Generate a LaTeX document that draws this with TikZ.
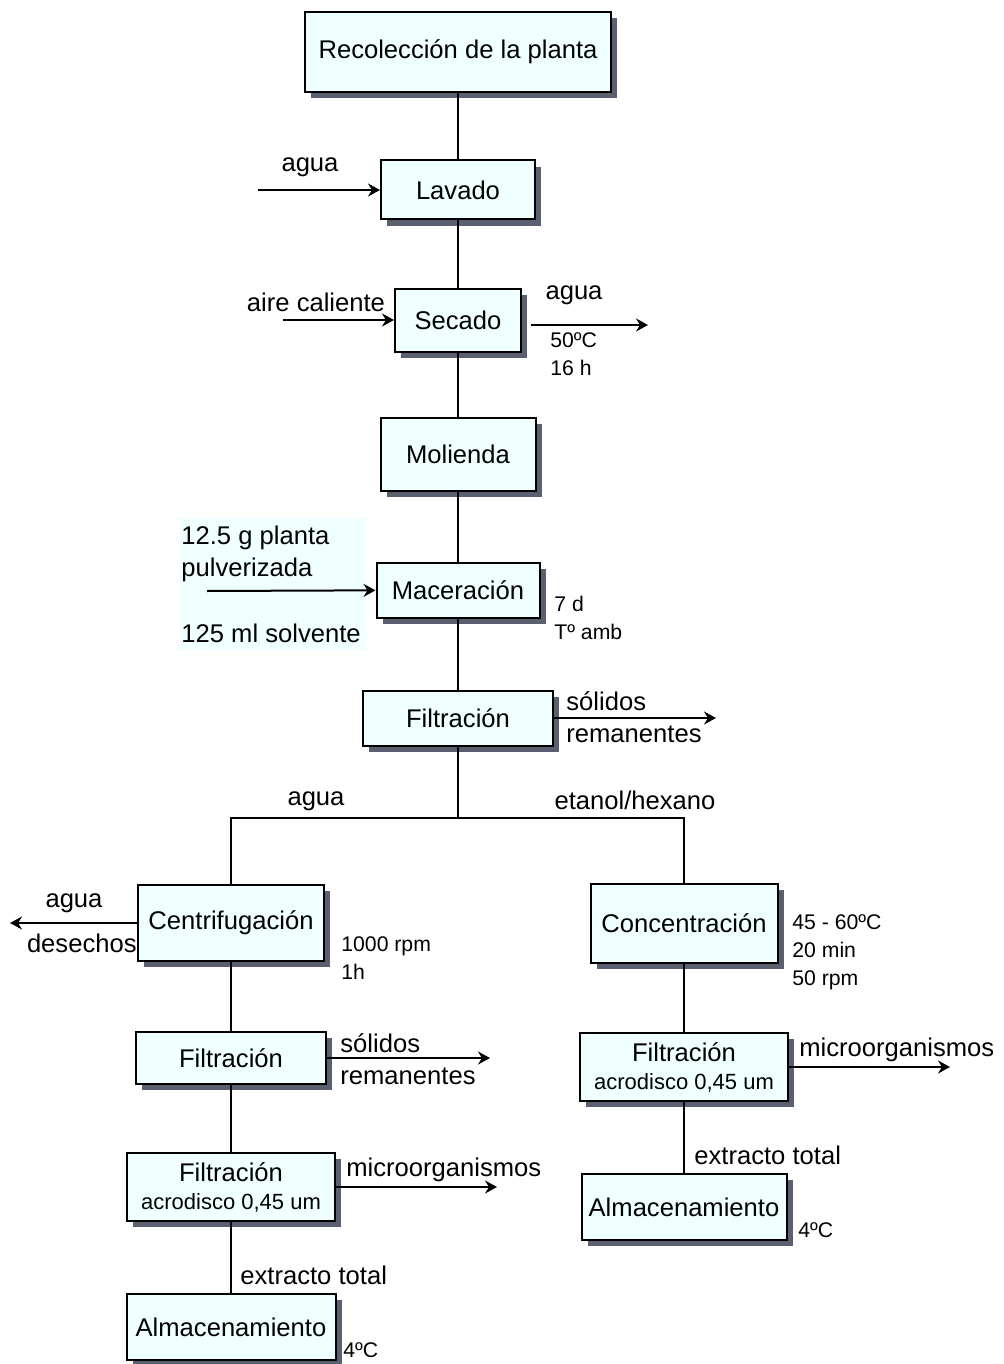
\documentclass[tikz,border=0pt]{standalone}
\usepackage{fontspec}
\setmainfont{Liberation Sans}
\usepackage{tikz}
\usetikzlibrary{arrows.meta,positioning,shadows}
\definecolor{boxfill}{HTML}{F0FFFF}
\definecolor{shade}{HTML}{5A6070}
\definecolor{feedfill}{HTML}{F0FFFF}

\begin{document}
\begin{tikzpicture}[
  x=0.5pt, y=-0.5pt,
  proc/.style={draw=black, fill=boxfill, line width=1pt, inner sep=0pt, align=center, font=\fontsize{12.8}{16}\selectfont, general shadow={fill=shade, shadow xshift=3.2pt, shadow yshift=-3.2pt}},
  lbl/.style={inner sep=0pt, align=left, font=\fontsize{12.8}{16}\selectfont},
  note/.style={inner sep=0pt, align=left, font=\fontsize{10.6}{14}\selectfont},
  flow/.style={line width=1pt},
  arrow/.style={line width=1pt, -{Stealth[length=6pt,width=6.5pt,inset=2pt]}}
]
\useasboundingbox (0,0) rectangle (1003,1364);

% background of the feed
\node[fill=feedfill, minimum width=93pt, minimum height=66pt, inner sep=0pt] (feedbg) at (273,584) {};

% main line
\node[proc, minimum width=153pt, minimum height=40pt] (recol) at (458,52) {Recolección de la planta};
\node[proc, minimum width=77pt, minimum height=29.5pt] (lavado) at (458,190) {Lavado};
\node[proc, minimum width=63pt, minimum height=31.5pt] (secado) at (458,320) {Secado};
\node[proc, minimum width=77.5pt, minimum height=36.5pt] (molienda) at (458,454) {Molienda};
\node[proc, minimum width=81.5pt, minimum height=27.5pt] (macer) at (458,590) {Maceración};
\node[proc, minimum width=95pt, minimum height=27.5pt] (filt) at (458,718) {Filtración};

% agua branch
\node[proc, minimum width=93pt, minimum height=38pt] (centrif) at (231,923) {Centrifugación};
\node[proc, minimum width=95pt, minimum height=26pt] (filtL) at (231,1058) {Filtración};
\node[proc, minimum width=104pt, minimum height=34pt] (acroL) at (231,1187) {Filtración\\[-2pt]{\fontsize{11}{13}\selectfont acrodisco 0,45 um}};
\node[proc, minimum width=104.5pt, minimum height=33pt] (almL) at (231,1327) {Almacenamiento};

% etanol/hexano branch
\node[proc, minimum width=93.5pt, minimum height=39.5pt] (concen) at (684,923) {Concentración};
\node[proc, minimum width=104pt, minimum height=34pt] (acroR) at (684,1067) {Filtración\\[-2pt]{\fontsize{11}{13}\selectfont acrodisco 0,45 um}};
\node[proc, minimum width=102.5pt, minimum height=33pt] (almR) at (684,1207) {Almacenamiento};

\coordinate (split) at (458,818);
\draw[flow] (recol) -- (lavado) -- (secado) -- (molienda) -- (macer) -- (filt);
\draw[flow] (filt) -- (split);
\draw[flow] (centrif.north) |- (split) -| (concen.north);
\draw[flow] (centrif) -- (filtL) -- (acroL) -- (almL);
\draw[flow] (concen) -- (acroR) -- (almR);

% side streams
\coordinate (aguain) at (258,190);
\coordinate (airein) at (283,320);
\coordinate (secout) at (648,325);
\coordinate (feedin) at (207,591);
\coordinate (solout) at (716,718);
\coordinate (desout) at (10,923);
\coordinate (solLout) at (490,1058);
\coordinate (microR) at (950,1067);
\coordinate (microL) at (497,1187);
\draw[arrow] (aguain) -- (lavado);
\draw[arrow] (airein) -- (secado);
\draw[arrow] ([xshift=4.5pt,yshift=-2.5pt]secado.east) -- (secout);
\draw[arrow] (feedin) -- (macer);
\draw[arrow] (filt) -- (solout);
\draw[arrow] (centrif) -- (desout);
\draw[arrow] (filtL) -- (solLout);
\draw[arrow] (acroR) -- (microR);
\draw[arrow] (acroL) -- (microL);

% labels
\node[lbl] (t-agua1) at (310,167) {agua};
\node[lbl] (t-aire) at (316,302) {aire caliente};
\node[lbl] (t-agua2) at (574,295) {agua};
\node[note, anchor=west] (t-sec) at (550,354) {50ºC\\16 h};
\node[lbl, anchor=west] (t-feed1) at (181,554) {12.5 g planta\\pulverizada};
\node[lbl, anchor=west] (t-feed2) at (181,633) {125 ml solvente};
\node[note, anchor=west] (t-mac) at (554,618) {7 d\\Tº amb};
\node[lbl, anchor=west] (t-sol1) at (566,717) {sólidos\\remanentes};
\node[lbl] (t-agua3) at (316,801) {agua};
\node[lbl] (t-etanol) at (635,800) {etanol/hexano};
\node[lbl] (t-agua4) at (74,903) {agua};
\node[lbl, anchor=east] (t-des) at (137,943) {desechos};
\node[note, anchor=west] (t-cen) at (341,958) {1000 rpm\\1h};
\node[note, anchor=west] (t-con) at (792,952) {45 - 60ºC\\20 min\\50 rpm};
\node[lbl, anchor=west] (t-sol2) at (340,1059) {sólidos\\remanentes};
\node[lbl, anchor=west] (t-micR) at (799,1050) {microorganismos};
\node[lbl, anchor=west] (t-micL) at (346,1170) {microorganismos};
\node[lbl, anchor=west] (t-extR) at (694,1155) {extracto total};
\node[lbl, anchor=west] (t-extL) at (240,1275) {extracto total};
\node[note, anchor=west] (t-4R) at (798,1230) {4ºC};
\node[note, anchor=west] (t-4L) at (343,1350) {4ºC};
\end{tikzpicture}
\end{document}
